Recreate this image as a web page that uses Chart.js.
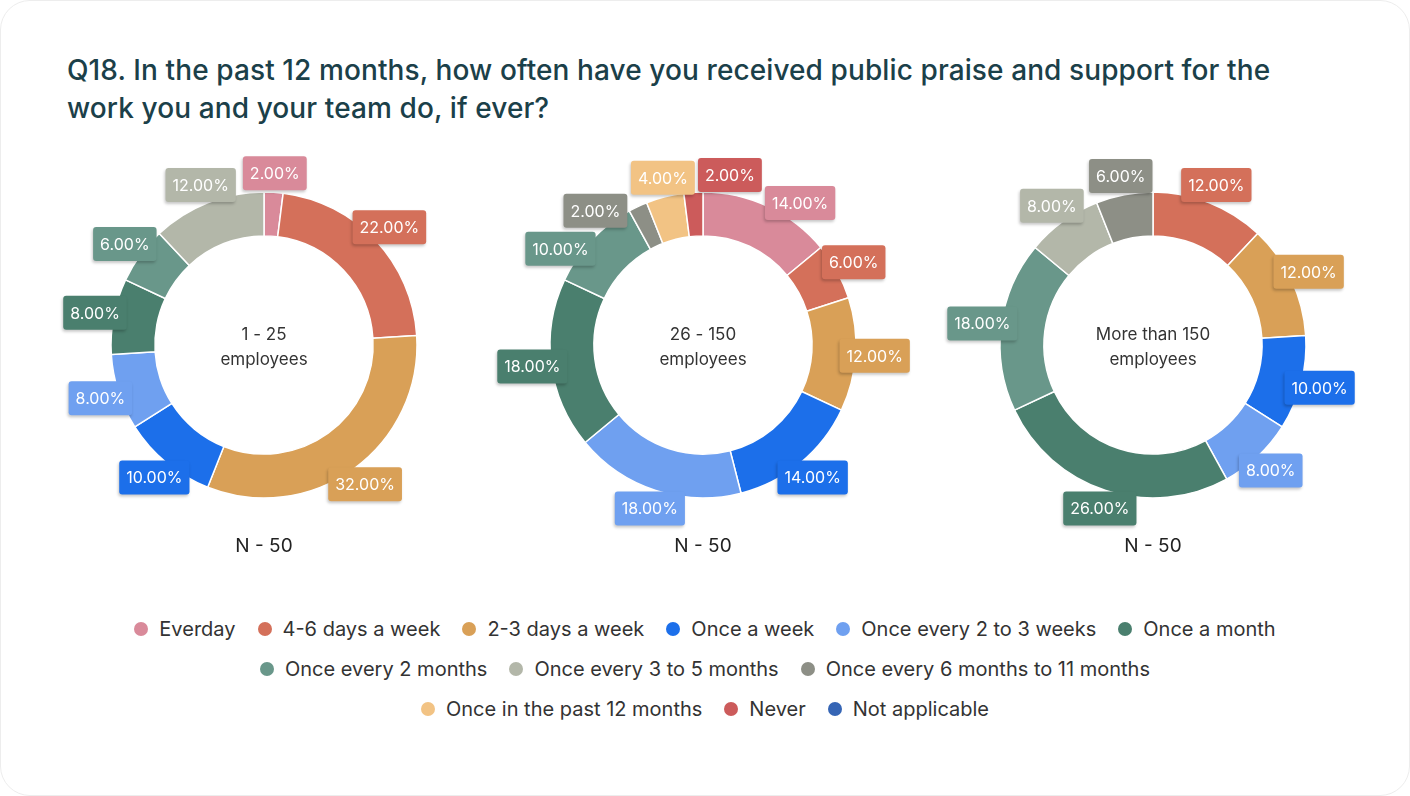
<!DOCTYPE html>
<html>
<head>
<meta charset="utf-8">
<script src="https://cdn.jsdelivr.net/npm/chart.js@4.4.1/dist/chart.umd.min.js"></script>
<style>
  html, body { margin: 0; padding: 0; background: #fff; }
  body { width: 1410px; height: 796px; position: relative; overflow: hidden; font-family: Inter, "Noto Sans", sans-serif; }
  .card { position: absolute; left: 0; top: 0; width: 1408px; height: 794px; border: 1px solid #ededed; border-radius: 30px; }
  h1 { position: absolute; left: 67px; top: 51px; margin: 0; font-size: 28px; font-weight: 500; line-height: 38px; color: #1b4049; letter-spacing: 0.1px; }
  canvas { position: absolute; top: 145px; }
  .n { position: absolute; width: 200px; top: 534px; text-align: center; font-size: 19px; color: #222; }
  #legend { position: absolute; left: 120px; width: 1170px; top: 611px; display: flex; flex-wrap: wrap; justify-content: center; row-gap: 4px; column-gap: 22px; }
  .item { display: flex; align-items: center; height: 36px; font-size: 20px; color: #333; }
  .dot { width: 14px; height: 14px; border-radius: 50%; margin-right: 11px; }
</style>
</head>
<body>
<div class="card"></div>
<h1>Q18. In the past 12 months, how often have you received public praise and support for the<br>work you and your team do, if ever?</h1>
<canvas id="c0" width="440" height="400" style="left:44px"></canvas>
<canvas id="c1" width="440" height="400" style="left:483px"></canvas>
<canvas id="c2" width="440" height="400" style="left:933px"></canvas>
<div class="n" style="left:164px">N - 50</div>
<div class="n" style="left:603px">N - 50</div>
<div class="n" style="left:1053px">N - 50</div>
<div id="legend"></div>
<script>
const categories = ["Everday", "4-6 days a week", "2-3 days a week", "Once a week", "Once every 2 to 3 weeks",
  "Once a month", "Once every 2 months", "Once every 3 to 5 months", "Once every 6 months to 11 months",
  "Once in the past 12 months", "Never", "Not applicable"];
const colors = ["#d98a9a", "#d4705a", "#d9a057", "#1c6fea", "#6fa0f0", "#4a7f6e",
  "#69978a", "#b3b7a9", "#8d8f86", "#f2c384", "#cc5b5b", "#3565b5"];

const groupNames = [["1 - 25", "employees"], ["26 - 150", "employees"], ["More than 150", "employees"]];
const smallValues = [2, 22, 32, 10, 8, 8, 6, 12, 0, 0, 0, 0];
const midValues = [14, 6, 12, 14, 18, 18, 10, 0, 2, 4, 2, 0];
const largeValues = [0, 12, 12, 10, 8, 26, 18, 8, 6, 0, 0, 0];
const groupValues = [smallValues, midValues, largeValues];

const FONT = "Inter, 'Noto Sans', sans-serif";
Chart.defaults.font.family = FONT;

// boxed percentage labels just outside each slice, nudged apart when they overlap
const boxLabels = {
  id: 'boxLabels',
  afterDatasetsDraw(chart) {
    const ctx = chart.ctx;
    const ds = chart.data.datasets[0];
    const meta = chart.getDatasetMeta(0);
    ctx.save();
    ctx.font = '16px ' + FONT;
    const items = [];
    meta.data.forEach((arc, i) => {
      if (!ds.data[i]) return;
      const p = arc.getProps(['x', 'y', 'startAngle', 'endAngle', 'outerRadius'], true);
      const text = ds.data[i].toFixed(2) + '%';
      items.push({
        cx: p.x, cy: p.y, r: p.outerRadius + 19, a: (p.startAngle + p.endAngle) / 2,
        w: ctx.measureText(text).width + 14, h: 34, text, color: ds.backgroundColor[i]
      });
    });
    const pos = it => ({ x: it.cx + it.r * Math.cos(it.a), y: it.cy + it.r * Math.sin(it.a) });
    const hits = (A, B) => {
      const a = pos(A), b = pos(B);
      return Math.abs(a.x - b.x) < (A.w + B.w) / 2 + 3 && Math.abs(a.y - b.y) < (A.h + B.h) / 2 + 3;
    };
    for (let k = 0; k < 400; k++) {
      let moved = false;
      for (let i = 0; i < items.length; i++) {
        for (let j = i + 1; j < items.length; j++) {
          if (!hits(items[i], items[j])) continue;
          let d = items[j].a - items[i].a;
          while (d > Math.PI) d -= 2 * Math.PI;
          while (d <= -Math.PI) d += 2 * Math.PI;
          const s = d >= 0 ? 1 : -1;
          items[i].a -= s * 0.004;
          items[j].a += s * 0.004;
          moved = true;
        }
      }
      if (!moved) break;
    }
    items.forEach(it => {
      const p = pos(it);
      ctx.save();
      ctx.shadowColor = 'rgba(0,0,0,0.22)';
      ctx.shadowBlur = 3;
      ctx.shadowOffsetX = -1;
      ctx.shadowOffsetY = 2;
      ctx.fillStyle = it.color;
      ctx.beginPath();
      ctx.roundRect(p.x - it.w / 2, p.y - it.h / 2, it.w, it.h, 3);
      ctx.fill();
      ctx.restore();
      ctx.fillStyle = '#fff';
      ctx.textAlign = 'center';
      ctx.textBaseline = 'middle';
      ctx.fillText(it.text, p.x, p.y + 1);
    });
    ctx.restore();
  }
};

const centerText = {
  id: 'centerText',
  afterDraw(chart, args, opts) {
    const ctx = chart.ctx;
    const a = chart.chartArea;
    const x = (a.left + a.right) / 2, y = (a.top + a.bottom) / 2;
    ctx.save();
    ctx.font = '17px ' + FONT;
    ctx.fillStyle = '#333';
    ctx.textAlign = 'center';
    ctx.textBaseline = 'middle';
    opts.lines.forEach((t, i) => ctx.fillText(t, x, y - 10 + i * 25));
    ctx.restore();
  }
};

groupValues.forEach((values, g) => {
  new Chart(document.getElementById('c' + g), {
    type: 'doughnut',
    data: {
      labels: categories,
      datasets: [{ data: values, backgroundColor: colors, borderColor: '#fff', borderWidth: 1.5 }]
    },
    options: {
      responsive: false,
      animation: false,
      radius: 153,
      cutout: '71.3%',
      plugins: {
        legend: { display: false },
        tooltip: { enabled: false },
        centerText: { lines: groupNames[g] }
      }
    },
    plugins: [boxLabels, centerText]
  });
});

const legend = document.getElementById('legend');
categories.forEach((name, i) => {
  const item = document.createElement('div');
  item.className = 'item';
  item.innerHTML = '<span class="dot" style="background:' + colors[i] + '"></span>' + name;
  legend.appendChild(item);
});
</script>
</body>
</html>
